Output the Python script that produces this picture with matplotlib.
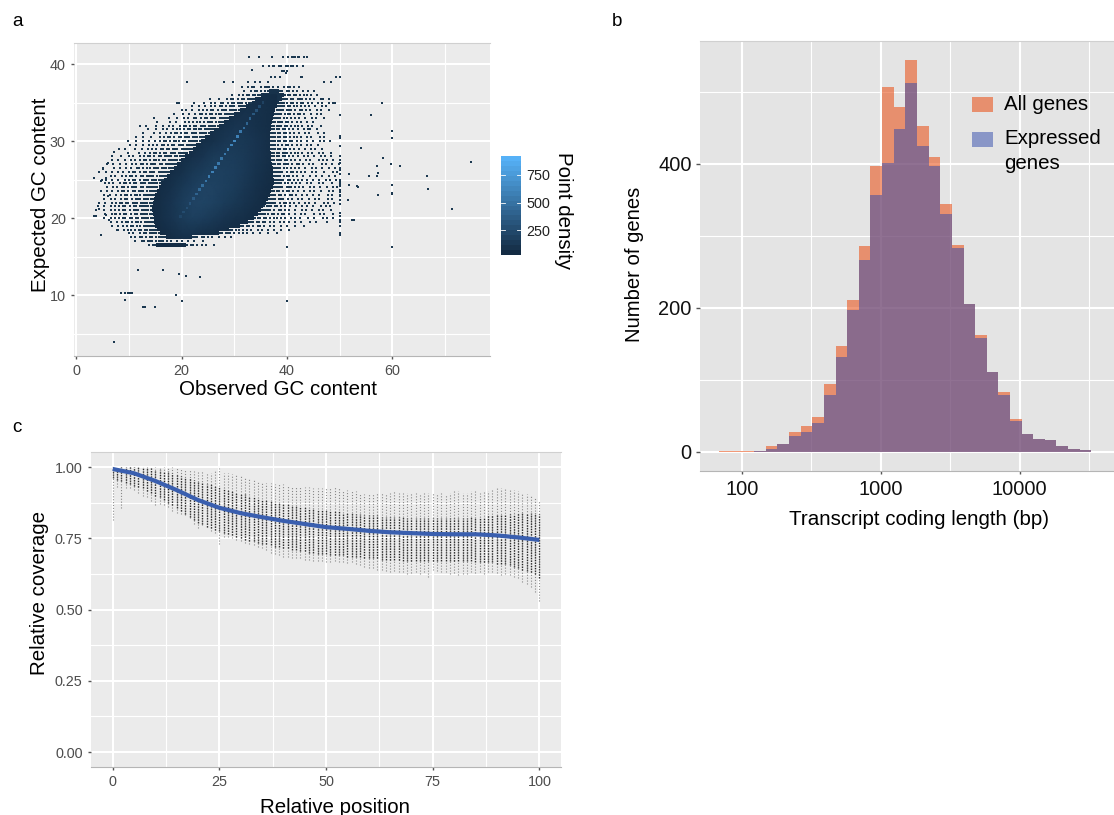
import numpy as np
import matplotlib
matplotlib.use('Agg')
import matplotlib.pyplot as plt
from matplotlib.colors import LinearSegmentedColormap, Normalize
from matplotlib.cm import ScalarMappable
from matplotlib.patches import Rectangle

plt.rcParams['font.family'] = ['Liberation Sans', 'DejaVu Sans']

W, H = 1114, 815

# panel a: solid part of the cloud, left and right edge for each y row
core_y = [37.0, 36.5, 36.0, 35.5, 35.0, 34.5, 34.0, 33.5, 33.0, 32.5, 32.0, 31.5, 31.0, 30.5,
          30.0, 29.5, 29.0, 28.5, 28.0, 27.5, 27.0, 26.5, 26.0, 25.5, 25.0, 24.5, 24.0, 23.5,
          23.0, 22.5, 22.0, 21.5, 21.0, 20.5, 20.0, 19.5, 19.0, 18.5, 18.0, 17.5, 17.0, 16.5, 16.2]
core_left = [36, 36.5, 35, 34, 33.3, 32.2, 31, 30, 29, 28, 27, 26.2, 25.3, 24.4,
             23.6, 22.8, 22.2, 21.3, 20.6, 19.8, 19.2, 18.5, 17.8, 17.2, 16.6, 16, 15.6, 15.3,
             15, 14.7, 14.5, 14.3, 14.3, 14.5, 14.7, 14.8, 15, 15.3, 15.8, 17, 15.8, 15.2, 15.2]
core_right = [36, 38.5, 39.5, 39, 38.5, 38, 37.8, 37.5, 37.3, 37.2, 37, 37, 36.8, 36.8,
              36.8, 36.8, 36.8, 37, 37, 37, 37.2, 37.3, 37.3, 37.3, 37.5, 37.5, 37.3, 37,
              36.7, 36.3, 36, 35.5, 35, 34.5, 33.8, 32.5, 31, 29, 27, 22, 15.8, 20.8, 20.8]

# scattered dots either side of the solid part, one char per 0.4 of x;
# left strings end at the core's left edge, right strings start at its right edge
fringe_step = 0.4
fringe_left = [
    ".  . ..  . .",
    "  .  . .. . ..",
    ".  . . .. ....",
    ".   .   . .. . .. ....",
    "..      .    .  . .  .. . .. ... ...",
    "    .  .  .  . . .. . ... ....",
    "   . .  .  . . . .. . ... .....",
    "   .   .  .  . .. . .. ... .....",
    ".      .   .  . .  .. . .. ... .....",
    ".     .  .   . . . .. . ... ....",
    ".  .    .  .  . .  . .. . .. ... .....",
    ".   .  . .  . .. . .. .... .....",
    ".    .  .  . . .. . .. ... .....",
    ".  .   .   . . .. . .. ... ......",
    ".   .  .  .  . . .. . ... .. ......",
    ".  .  .  . . . .. . .. ... .....",
    ".    .  .  . . . .. .. ... ......",
    ".    .  . . .. . .. ... .....",
    ".   .   . .  . . .. . .. .... .....",
    ".  .  .  . . . .. . ... .. ......",
    ".  .  .  .  . . .. . ... .. ......",
    ".    .  .  . .  .. . .. ... ......",
    ".  .  .  . .  . .. . .. ... ......",
    "   . .  . . .. . .. .... .....",
    ". .  .  .  . . .. . ... ......",
    ". . .  . .. . .. ... ......",
    ".  . . .. . ... .. ......",
    ".  . .  . .. . .. ... .....",
    ".  .  . . .. . ... ......",
    "  .  . .  . .. . ... .....",
    ".  .  . . .. .. ... ......",
    "  .  .  . . . .. . .. ......",
    ".   .  . . . .. . ... .....",
    "  .  . . . .. . .. ......",
    ".  . . . .. .. .. ......",
    "   .  . . .. . ... .....",
    ".  . . . .. .. ......",
    ".  . .. . .. ......",
    "  . .  . .. .....",
    ". . .. . .. .....",
    ".  .. ... ..",
    ". ..",
    "",
]
fringe_right = [
    ".. . .  . .. . .",
    ".. .. . .  . .  .",
    "... .. . .. .  .",
    "... .. ... . . .  ..  .",
    ".... .. . .. . .  . .  . ..",
    ".... .. .. . . .  .  . .",
    ".... ... . .. . .  . .   .",
    ".... ... . .. .  .  . .",
    ".... .. . . .  .  . .   .",
    "..... .. . . .  .  .",
    "..... .. . .. .  . .   .",
    ".... .. . . .  . ..  .",
    "..... .. . . .  . .   .  .",
    "..... .. . .. .  . .   . .",
    "..... .. .. . .  .  .  . .  .",
    ".... . .. . . .  . .  .",
    "..... .. . . .  .  . .  .",
    ".... ... . .. .  . .  . .   .",
    ".... .. . . .  . .  .  . .  .",
    "..... .. . . .  . .   . . .  .",
    ".... ... . .. .  . .   . .  .  .",
    ".... .. . . .  .  . .  .  .  .",
    "..... . .. . . .  . .   .   . .",
    ".... ... . .  .  .  .  .  .  .",
    "..... .. . . . .  .  .  . .  .",
    ".... .. . . .  . .   . .   .",
    "..... ... . . .  . .  .  .  . .",
    ".... . .. . .  .  . .  .   . .",
    "... .. . .. .  . .  .  .   . .",
    ".... ... . .  . .  .  . .   . .",
    "..... . .. . . .  . .  .   . .  .",
    ".... .. . . .  .  . .  .   . . .",
    "..... . .. . .  .  . .  .  . .   .",
    "..... .. . .. .  .  . .   .  . .   .",
    "... .. . .. . .  . . .   .  .   . .  .",
    "... .. .. . .  . . .  .  .   .  .    .",
    ".. .. . .. .  . .  .  .   .   .",
    ".. .. . . .  . .  .  .  .   .",
    ".. ... . . . .  .  .   .   .",
    "... .. . .  .  .  .",
    ".. . .  . .  .  .   .",
    ". .. . . .   .",
    "",
]

# shading inside the solid part, values at grid crossings
shade_x = [14, 16, 18, 20, 22, 24, 26, 28, 30, 32, 34, 36, 38]
shade_y = [16, 18, 20, 22, 24, 26, 28, 30, 32, 34, 36]
shade_16 = [30, 30, 30, 30, 30, 30, 30, 30, 30, 30, 30, 30, 30]
shade_18 = [30, 30, 50, 80, 80, 60, 50, 40, 30, 30, 30, 30, 30]
shade_20 = [30, 50, 90, 130, 160, 150, 120, 90, 70, 50, 30, 30, 30]
shade_22 = [30, 50, 90, 140, 180, 190, 170, 140, 110, 80, 50, 30, 30]
shade_24 = [30, 40, 70, 110, 150, 180, 180, 160, 140, 100, 70, 40, 30]
shade_26 = [30, 30, 40, 70, 110, 140, 160, 160, 150, 120, 80, 50, 30]
shade_28 = [30, 30, 30, 40, 60, 90, 130, 140, 140, 120, 90, 60, 40]
shade_30 = [30, 30, 30, 30, 30, 50, 70, 100, 120, 110, 90, 60, 40]
shade_32 = [30, 30, 30, 30, 30, 30, 50, 70, 90, 90, 70, 50, 40]
shade_34 = [30, 30, 30, 30, 30, 30, 30, 30, 50, 70, 70, 50, 40]
shade_36 = [30, 30, 30, 30, 30, 30, 30, 30, 30, 40, 50, 50, 40]

# bright ridge along the diagonal
ridge_x = [19.8, 20.4, 21.0, 21.6, 22.2, 22.8, 23.4, 24.0, 24.6, 25.2, 25.8, 26.4, 27.0, 27.6, 28.2,
           28.8, 29.4, 30.0, 30.6, 31.2, 31.8, 32.4, 33.0, 33.6, 34.2, 34.8, 35.4]
ridge_y = [20.2, 20.8, 21.3, 21.9, 22.5, 23.1, 23.7, 24.2, 24.8, 25.4, 26.0, 26.6, 27.1, 27.7, 28.3,
           28.9, 29.5, 30.0, 30.6, 31.2, 31.7, 32.3, 32.9, 33.5, 34.0, 34.5, 35.0]
ridge_d = [200, 240, 260, 290, 340, 400, 440, 470, 520, 570, 600, 580, 540, 510, 540,
           560, 610, 640, 600, 540, 470, 420, 380, 330, 290, 240, 180]

# lone points well away from the cloud
lone_x = [7.15, 8.4, 9.2, 9.8, 10.2, 10.6, 9.3, 12.7, 13.0, 14.9, 11.8, 16.5, 19.5, 20.8, 23.5, 19.0, 20.0,
          40.0, 40.0,
          50, 50, 50, 50, 50, 50, 50, 50, 50, 50, 50, 50, 50, 50, 50, 50, 50, 50, 50, 50, 50, 50, 50, 50, 50, 50, 50,
          60, 60, 59.8, 60, 60, 59.9, 60,
          54, 58.2, 57.1, 57.2, 57.1, 55.6, 61.5, 66.5, 66.7, 75, 71.4, 51.7, 51.8, 53.3, 53.5, 57.2, 51.5, 52.4, 52.8,
          56.0, 58.0,
          32.8, 34.6, 37.15, 39.3, 40.1, 40.9, 41.2, 41.6, 42, 42.3, 43.2, 43.8,
          35.5, 36.6, 37.3, 37.6, 38.5, 38.9, 39.8, 40.25, 40.75, 41.2, 41.8, 43,
          33.3, 39, 39.4, 40, 39.8, 42.6, 42.85, 49.3, 50.05, 36.9, 37.7, 38.7,
          20.95, 28.1, 29.7, 32.5, 33.9, 34.9, 36.45, 47, 48.3,
          3.4, 3.7, 4.3, 4.75, 6.1, 6.2, 7.3, 5.6, 7.7, 6.1, 5.1, 3.4, 4.6, 5.6, 7.2, 8.1]
lone_y = [3.86, 10.2, 10.2, 10.2, 10.2, 10.2, 9.3, 8.5, 8.5, 8.5, 13.2, 13.2, 12.7, 12.5, 12.3, 10.0, 9.2,
          9.2, 16.2,
          33.4, 30.65, 30.35, 29.3, 28.05, 27.6, 27.2, 26.45, 26.2, 25.7, 24.9, 24.7, 24.4, 24.1, 23.7, 23.4, 23.0, 22.8,
          22.3, 21.8, 20.6, 20.25, 19.8, 19.5, 18.95, 18.1, 17.8,
          31.3, 30.35, 27.0, 24.25, 23.3, 23.1, 16.2,
          29.05, 27.75, 26.7, 25.9, 25.4, 25.4, 26.8, 25.5, 23.8, 27.3, 21.2, 25.7, 24.25, 24.2, 24.07, 22.95, 22.3, 19.75, 19.75,
          33.4, 35.0,
          40.9, 40.9, 40.9, 40.9, 40.9, 40.9, 40.9, 40.9, 40.9, 40.9, 40.9, 40.9,
          39.8, 39.8, 39.8, 39.8, 39.8, 39.8, 39.8, 39.8, 39.8, 39.8, 39.8, 39.8,
          39.2, 39.1, 39.1, 39.1, 38.8, 38.35, 38.35, 38.35, 38.35, 38.35, 38.35, 38.35,
          37.7, 37.7, 37.7, 37.7, 37.7, 37.7, 37.7, 37.7, 37.7,
          20.3, 20.3, 21.2, 17.8, 22.8, 19.7, 20.5, 20.4, 18.5, 27.1, 26.4, 25.2, 24.8, 25.2, 28.6, 28.9]

# panel b: histogram of coding length (log10 bin edges)
bin_edges = [1.840, 1.924, 2.005, 2.089, 2.173, 2.257, 2.341, 2.424, 2.508, 2.592, 2.676, 2.760, 2.844, 2.926,
             3.010, 3.094, 3.177, 3.261, 3.345, 3.429, 3.513, 3.597, 3.679, 3.763, 3.847, 3.930, 4.014, 4.098,
             4.180, 4.264, 4.348, 4.432, 4.513]
all_genes = [0.5, 1, 1, 1, 7, 11, 27, 36, 48, 94, 147, 210, 286, 397, 506, 479, 544, 452, 410, 344, 287, 205,
             162, 111, 83, 45, 24, 17, 16, 7, 4, 2]
expressed_genes = [0, 0, 0, 1, 4, 11, 22, 27, 40, 79, 131, 197, 266, 357, 401, 448, 512, 425, 397, 330, 283, 205,
                   158, 111, 78, 43, 24, 17, 16, 7, 4, 2]

# panel c: coverage by relative position
positions = list(range(101))
cover_high = [1.0, 1.0, 1.0, 1.0, 1.0, 1.0, 1.0, 1.0, 1.0, 1.0, 1.0, 1.0, 1.0, 1.0, 1.0,
              .995, .995, .99, .99, .985, .985, .985, .98, .98, .985, .995, .98, .98, .975, .975,
              .97, .965, .96, .955, .95, .945, .945, .945, .94, .94, .94, .935, .935, .93, .93,
              .93, .93, .925, .925, .925, .925, .925, .93, .925, .92, .92, .915, .915, .91, .905,
              .905, .91, .91, .91, .91, .91, .915, .91, .91, .91, .91, .91, .905, .91, .91,
              .91, .905, .91, .905, .91, .915, .915, .91, .91, .915, .915, .91, .915, .915, .92,
              .925, .925, .925, .92, .92, .915, .91, .905, .9, .89, .88]
cover_low = [.815, .93, .855, .925, .925, .92, .91, .90, .895, .88, .867, .87, .865, .86, .845,
             .84, .835, .83, .82, .80, .785, .795, .79, .775, .77, .73, .755, .755, .75, .745,
             .74, .735, .73, .725, .72, .715, .71, .70, .695, .69, .685, .685, .68, .68, .68,
             .675, .675, .67, .67, .67, .668, .665, .67, .665, .665, .662, .665, .66, .655, .65,
             .645, .645, .64, .64, .635, .633, .635, .63, .63, .625, .627, .63, .625, .63, .615,
             .64, .635, .63, .63, .625, .627, .62, .625, .625, .63, .627, .63, .625, .63, .63,
             .627, .62, .625, .62, .615, .61, .595, .59, .58, .56, .53]
core_high = [1.0, 1.0, 1.0, 1.0, 1.0, 1.0, 1.0, 1.0, .995, .995, .99, .99, .985, .985, .98,
             .975, .97, .965, .96, .955, .95, .945, .94, .94, .935, .93, .925, .92, .915, .91,
             .905, .905, .90, .895, .89, .885, .885, .88, .875, .875, .87, .87, .865, .865, .86,
             .86, .855, .855, .85, .85, .85, .845, .845, .845, .84, .84, .84, .835, .835, .83,
             .83, .83, .83, .825, .825, .825, .825, .825, .825, .82, .82, .82, .82, .82, .82,
             .82, .82, .82, .82, .82, .82, .82, .82, .82, .825, .825, .825, .825, .83, .83,
             .83, .83, .835, .835, .835, .84, .84, .84, .84, .84, .835]
core_low = [.96, .955, .95, .945, .94, .935, .93, .925, .915, .91, .90, .895, .885, .875, .865,
            .855, .845, .835, .825, .815, .805, .80, .79, .785, .78, .775, .77, .765, .76, .755,
            .75, .745, .74, .74, .735, .73, .73, .725, .72, .72, .715, .715, .71, .71, .705,
            .705, .70, .70, .695, .695, .695, .69, .69, .69, .69, .685, .685, .685, .685, .68,
            .68, .68, .68, .675, .675, .675, .675, .675, .67, .67, .67, .67, .67, .67, .67,
            .67, .67, .67, .67, .67, .67, .67, .67, .67, .67, .665, .665, .665, .665, .665,
            .66, .66, .66, .655, .65, .645, .64, .635, .63, .625, .61]
smooth_pos = [0, 5, 10, 15, 20, 25, 30, 35, 40, 45, 50, 55, 60, 65, 70, 75, 80, 85, 90, 95, 100]
smooth_cov = [.993, .978, .951, .919, .884, .857, .838, .824, .811, .80, .789, .783, .776, .771, .768, .765,
              .764, .764, .76, .753, .744]


def panel(left, top, right, bottom, color='#EBEBEB'):
    ax = fig.add_axes([left / W, 1 - bottom / H, (right - left) / W, (bottom - top) / H])
    ax.set_facecolor(color)
    ax.set_axisbelow(True)
    for side in ['left', 'right']:
        ax.spines[side].set_visible(False)
    ax.spines['top'].set_color('#D0D0D0')
    ax.spines['bottom'].set_color('#B5B5B5')
    ax.grid(which='major', color='white', lw=1.5)
    ax.grid(which='minor', color='white', lw=0.8)
    ax.tick_params(which='minor', length=0)
    ax.tick_params(which='major', length=2.5, width=1, color='#555555')
    return ax


fig = plt.figure(figsize=(W / 100, H / 100), dpi=100)

cmap = LinearSegmentedColormap.from_list('gg', ['#132B43', '#56B1F7'], N=20)
smooth_cmap = LinearSegmentedColormap.from_list('gg_smooth', ['#132B43', '#56B1F7'])
norm = Normalize(25, 921)

# --- a ---
ax = panel(74, 42.7, 490.4, 356)
ax.set_xlim(-0.44, 78.6)
ax.set_ylim(2.08, 42.77)
ax.set_xticks([0, 20, 40, 60])
ax.set_xticks([10, 30, 50, 70], minor=True)
ax.set_yticks([10, 20, 30, 40])
ax.set_yticks([5, 15, 25, 35], minor=True)
ax.tick_params(labelsize=10.4, labelcolor='#4D4D4D')

dot_x, dot_y = [], []
for y, lo, hi, lstr, rstr in zip(core_y, core_left, core_right, fringe_left, fringe_right):
    for k, ch in enumerate(reversed(lstr)):
        if ch == '.':
            dot_x.append(lo - fringe_step * (k + 0.5))
            dot_y.append(y)
    for k, ch in enumerate(rstr):
        if ch == '.':
            dot_x.append(hi + fringe_step * (k + 0.5))
            dot_y.append(y)
ax.scatter(dot_x + lone_x, dot_y + lone_y, s=3, marker='s', color='#1B3850', linewidths=0)

solid = ax.fill_betweenx(core_y, core_left, core_right, step='mid', color='#17324B', lw=0)
shade = [shade_16, shade_18, shade_20, shade_22, shade_24, shade_26, shade_28, shade_30, shade_32, shade_34, shade_36]
mesh = ax.pcolormesh(shade_x, shade_y, shade, shading='gouraud', cmap=smooth_cmap, norm=norm)
mesh.set_clip_path(solid.get_paths()[0], ax.transData)
ax.scatter(ridge_x, ridge_y, c=ridge_d, s=3.5, marker='s', cmap=smooth_cmap, norm=norm, linewidths=0)
ax.set_xlabel('Observed GC content', fontsize=14.8)
ax.xaxis.set_label_coords(0.489, (356 - 380) / 313.3)
ax.set_ylabel('Expected GC content', fontsize=14.8)
ax.yaxis.set_label_coords((50 - 74) / 416.4, 0.514)

cax = fig.add_axes([501 / W, 1 - 255 / H, 20 / W, 99 / H])
cb = fig.colorbar(ScalarMappable(norm=norm, cmap=cmap), cax=cax, ticks=[250, 500, 750])
cb.outline.set_visible(False)
cax.tick_params(length=0, labelsize=10.4, labelcolor='#222222', pad=4)
for v in [250, 500, 750]:
    cax.axhline(v, xmin=0, xmax=0.2, color='white', lw=0.6)
    cax.axhline(v, xmin=0.8, xmax=1, color='white', lw=0.6)
fig.text(563 / W, 1 - 211 / H, 'Point density', rotation=-90, fontsize=14.8, ha='center', va='center')

# --- b ---
ax = panel(700, 40.7, 1114, 471.3, color='#E4E4E4')
ax.set_xlim(1.70, 4.678)
ax.set_ylim(-27.5, 571)
ax.set_xticks([2, 3, 4])
ax.set_xticklabels(['100', '1000', '10000'])
ax.set_xticks([2.5, 3.5, 4.5], minor=True)
ax.set_yticks([0, 200, 400])
ax.set_yticks([100, 300, 500], minor=True)
ax.tick_params(labelsize=14.4, labelcolor='#111111', pad=4)
ax.tick_params(axis='y', length=3, pad=3)
ax.stairs(all_genes, bin_edges, fill=True, color='#EA5720', alpha=0.6, lw=0)
ax.stairs(expressed_genes, bin_edges, fill=True, color='#2F49AB', alpha=0.5, lw=0)
ax.set_xlabel('Transcript coding length (bp)', fontsize=14.8)
ax.xaxis.set_label_coords(0.529, (471.3 - 510) / 430.6)
ax.set_ylabel('Number of genes', fontsize=14.6)
ax.yaxis.set_label_coords((644 - 700) / 414, 0.48)
# legend placed by hand, the swatch of the wrapped label sits level with its first line
for top, color, alpha in [(97, '#EA5720', 0.6), (132, '#2F49AB', 0.5)]:
    fig.add_artist(Rectangle((972 / W, 1 - (top + 15) / H), 21 / W, 15 / H, transform=fig.transFigure,
                             facecolor=color, alpha=alpha, lw=0))
fig.text(1004 / W, 1 - 104 / H, 'All genes', fontsize=14.8, va='center')
fig.text(1004 / W, 1 - 151 / H, 'Expressed\ngenes', fontsize=14.8, va='center', linespacing=1.4)

# --- c ---
ax = panel(91, 452.3, 560.7, 767)
ax.set_xlim(-5.09, 105)
ax.set_ylim(-0.0526, 1.0516)
ax.set_xticks([0, 25, 50, 75, 100])
ax.set_xticks([12.5, 37.5, 62.5, 87.5], minor=True)
ax.set_yticks([0, .25, .5, .75, 1])
ax.set_yticklabels(['0.00', '0.25', '0.50', '0.75', '1.00'])
ax.set_yticks([.125, .375, .625, .875], minor=True)
ax.tick_params(labelsize=10.4, labelcolor='#4D4D4D')
ax.vlines(positions, cover_low, cover_high, color='#444444', lw=0.8, linestyles=[(0, (1, 1.6))], alpha=0.6)
ax.vlines(positions, core_low, core_high, color='#000000', lw=1.0, linestyles=[(0, (1, 0.9))], alpha=0.75)
ax.plot(smooth_pos, smooth_cov, color='#3A5FAF', lw=3, solid_capstyle='butt')
ax.set_xlabel('Relative position', fontsize=14.8)
ax.xaxis.set_label_coords((335.5 - 91) / 469.7, (767 - 798) / 314.7)
ax.set_ylabel('Relative coverage', fontsize=14.8)
ax.yaxis.set_label_coords((49 - 91) / 469.7, 0.553)

for label, x, y in [('a', 12, 22), ('b', 612, 22), ('c', 12, 428)]:
    fig.text(x / W, 1 - y / H, label, fontsize=13.5, ha='left', va='center')

fig.savefig('out.png', dpi=100)
